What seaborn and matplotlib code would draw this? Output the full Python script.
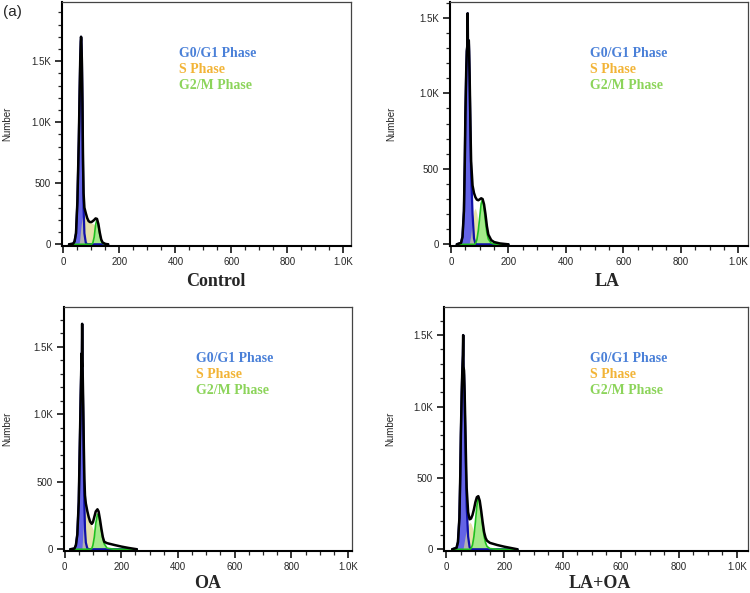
import numpy as np
import matplotlib
matplotlib.use('Agg')
import matplotlib.pyplot as plt
import seaborn as sns

# channel grid and counts (total curve + fitted phases)
ctrl_ch    = [20, 35, 40, 45, 50, 55, 58, 60, 62, 63, 64, 66, 68, 70, 72, 75, 80, 85, 90, 95, 100, 105, 110, 115, 120, 125, 130, 135, 140, 150, 160]
ctrl_total = [0, 5, 25, 90, 350, 850, 1250, 1500, 1660, 1700, 1680, 1500, 1150, 700, 420, 300, 255, 215, 190, 182, 182, 190, 200, 212, 208, 165, 95, 40, 15, 3, 0]
ctrl_g1    = [0, 5, 25, 90, 350, 850, 1250, 1500, 1660, 1700, 1680, 1500, 1150, 650, 300, 90, 12, 0, 0, 0, 0, 0, 0, 0, 0, 0, 0, 0, 0, 0, 0]
ctrl_s     = [0, 0, 0, 0, 0, 0, 30, 80, 130, 150, 170, 200, 225, 240, 245, 240, 225, 205, 185, 178, 175, 170, 160, 130, 70, 25, 5, 0, 0, 0, 0]
ctrl_g2    = [0, 0, 0, 0, 0, 0, 0, 0, 0, 0, 0, 0, 0, 0, 0, 0, 0, 0, 0, 0, 0, 10, 60, 160, 205, 150, 80, 30, 8, 0, 0]

la_ch    = [20, 35, 40, 45, 48, 50, 53, 55, 57, 58, 59, 61, 62, 63, 65, 68, 70, 75, 80, 85, 90, 95, 100, 105, 110, 115, 120, 125, 130, 140, 150, 170, 200]
la_total = [0, 10, 50, 220, 550, 850, 1150, 1280, 1320, 1530, 1310, 1340, 1350, 1280, 1100, 750, 550, 390, 340, 312, 296, 292, 298, 305, 300, 265, 200, 120, 65, 28, 15, 6, 0]
la_g1    = [0, 10, 50, 220, 550, 850, 1150, 1280, 1320, 1530, 1310, 1340, 1350, 1280, 1080, 700, 470, 200, 40, 5, 0, 0, 0, 0, 0, 0, 0, 0, 0, 0, 0, 0, 0]
la_s     = [0, 0, 0, 0, 0, 0, 0, 0, 0, 0, 0, 0, 0, 5, 20, 50, 80, 170, 225, 240, 200, 130, 60, 20, 5, 0, 0, 0, 0, 0, 0, 0, 0]
la_g2    = [0, 0, 0, 0, 0, 0, 0, 0, 0, 0, 0, 0, 0, 0, 0, 0, 0, 0, 0, 5, 30, 90, 180, 270, 300, 240, 150, 75, 35, 8, 2, 0, 0]

oa_ch    = [20, 35, 40, 45, 50, 54, 57, 59, 60, 61, 62, 63, 64, 66, 68, 70, 72, 75, 80, 85, 90, 96, 100, 105, 110, 116, 120, 125, 130, 135, 140, 150, 175, 200, 225, 255]
oa_total = [0, 5, 30, 110, 350, 800, 1150, 1350, 1450, 1350, 1670, 1420, 1300, 1050, 750, 520, 400, 340, 285, 240, 205, 188, 200, 240, 280, 296, 280, 220, 150, 90, 55, 45, 32, 20, 10, 0]
oa_g1    = [0, 5, 30, 110, 350, 800, 1150, 1350, 1450, 1350, 1670, 1400, 1250, 950, 600, 320, 150, 50, 8, 0, 0, 0, 0, 0, 0, 0, 0, 0, 0, 0, 0, 0, 0, 0, 0, 0]
oa_s     = [0, 0, 0, 0, 0, 0, 0, 0, 0, 0, 30, 60, 100, 180, 260, 320, 340, 310, 260, 225, 195, 170, 150, 130, 100, 60, 35, 15, 5, 0, 0, 0, 0, 0, 0, 0]
oa_g2    = [0, 0, 0, 0, 0, 0, 0, 0, 0, 0, 0, 0, 0, 0, 0, 0, 0, 0, 0, 0, 0, 5, 30, 90, 190, 260, 250, 200, 140, 80, 40, 8, 0, 0, 0, 0]

lo_ch    = [20, 35, 40, 45, 48, 50, 53, 55, 57, 58, 59, 61, 63, 65, 68, 70, 75, 80, 85, 90, 95, 100, 105, 110, 115, 120, 125, 130, 135, 140, 150, 175, 200, 225, 245]
lo_total = [0, 10, 50, 220, 520, 800, 1100, 1250, 1360, 1500, 1280, 1250, 1100, 900, 600, 430, 260, 210, 215, 240, 280, 330, 365, 372, 340, 270, 190, 120, 80, 60, 45, 30, 18, 8, 0]
lo_g1    = [0, 10, 50, 220, 520, 800, 1100, 1250, 1360, 1500, 1280, 1220, 1050, 820, 480, 300, 90, 15, 0, 0, 0, 0, 0, 0, 0, 0, 0, 0, 0, 0, 0, 0, 0, 0, 0]
lo_s     = [0, 0, 0, 0, 0, 0, 0, 0, 0, 10, 20, 45, 70, 95, 120, 140, 170, 190, 180, 150, 110, 70, 35, 12, 3, 0, 0, 0, 0, 0, 0, 0, 0, 0, 0]
lo_g2    = [0, 0, 0, 0, 0, 0, 0, 0, 0, 0, 0, 0, 0, 0, 0, 0, 0, 0, 5, 30, 90, 190, 300, 370, 330, 250, 160, 90, 45, 20, 5, 0, 0, 0, 0]

panel_titles = ['Control', 'LA', 'OA', 'LA+OA']
phase_labels = ['G0/G1 Phase', 'S Phase', 'G2/M Phase']
phase_colors = ['#4a80d8', '#f2b437', '#8cd45a']
x_ticks = [0, 200, 400, 600, 800, 1000]
x_labels = ['0', '200', '400', '600', '800', '1.0K']
y_ticks = [0, 500, 1000, 1500]
y_labels = ['0', '500', '1.0K', '1.5K']

G1_FILL, G1_EDGE = '#6464e6', '#1010a8'
S_FILL = '#e6e2aa'
OVERLAP = '#b2b2b2'
G2_FILL, G2_EDGE = '#a4ea8a', '#1fc01f'

sns.set_style('ticks')
plt.rcParams['font.family'] = ['Liberation Sans', 'DejaVu Sans']

fig = plt.figure(figsize=(7.5, 5.93), dpi=100)

# axes rect (fig fraction), x-limits, y-limits, legend x, ylabel x, title centre x/y (px)
panels = [
    (ctrl_ch, ctrl_total, ctrl_g1, ctrl_s, ctrl_g2, [62/750, 347/593, 289/750, 244/593], (-5, 1027), (-14, 1985), 0.405, -0.173, 216, 281),
    (la_ch, la_total, la_g1, la_s, la_g2, [450/750, 347/593, 298/750, 244/593], (-3.5, 1034), (-11, 1605), 0.47, -0.181, 607, 281),
    (oa_ch, oa_total, oa_g1, oa_s, oa_g2, [64/750, 42/593, 288/750, 244/593], (-2, 1014), (-13, 1795), 0.46, -0.18, 208, 584),
    (lo_ch, lo_total, lo_g1, lo_s, lo_g2, [444/750, 42/593, 304/750, 244/593], (-8, 1038), (-12, 1697), 0.48, -0.161, 600, 584),
]

for i, (ch, total, g1, s, g2, rect, xl, yl, lx, ylx, tx, ty) in enumerate(panels):
    ax = fig.add_axes(rect)
    ch = np.array(ch)
    g1 = np.array(g1)
    s = np.array(s)
    ax.fill_between(ch, s, color=S_FILL, lw=0)
    ax.fill_between(ch, g1, color=G1_FILL, lw=0)
    ax.plot(ch, g1, color=G1_EDGE, lw=1.6)
    ax.fill_between(ch, np.minimum(g1, s), color=OVERLAP, lw=0)
    ax.fill_between(ch, g2, color=G2_FILL, lw=0)
    ax.plot(ch, g2, color=G2_EDGE, lw=1.2)
    sns.lineplot(x=ch, y=total, ax=ax, color='black', lw=1.8)

    ax.set_xlim(*xl)
    ax.set_ylim(*yl)
    ax.set_xticks(x_ticks)
    ax.set_xticklabels(x_labels)
    ax.set_xticks(np.arange(0, 1001, 50), minor=True)
    ax.set_yticks(y_ticks)
    ax.set_yticklabels(y_labels)
    ax.set_yticks(np.arange(0, yl[1], 100), minor=True)
    ax.tick_params(which='major', direction='out', length=5, width=1.3, labelsize=7, pad=3)
    ax.tick_params(which='minor', direction='out', length=3, width=0.9)
    for side in ['left', 'bottom']:
        ax.spines[side].set_linewidth(1.5)
        ax.spines[side].set_color('black')
    for side in ['top', 'right']:
        ax.spines[side].set_linewidth(0.9)
        ax.spines[side].set_color('#444444')

    ax.set_xlabel('')
    ax.set_ylabel('Number', fontsize=7)
    ax.yaxis.set_label_coords(ylx, 0.5)

    for j, (lab, col) in enumerate(zip(phase_labels, phase_colors)):
        ax.text(lx, 0.79 - j * 0.066, lab, transform=ax.transAxes, color=col,
                fontsize=10, fontweight='bold', family='Liberation Serif', va='center', ha='left')

    fig.text(tx / 750, 1 - ty / 593, panel_titles[i], fontsize=13, fontweight='bold',
             family='Liberation Serif', ha='center', va='center')

fig.text(3 / 750, 1 - 12 / 593, '(a)', fontsize=11, ha='left', va='center')

fig.savefig('out.png', dpi=100)
